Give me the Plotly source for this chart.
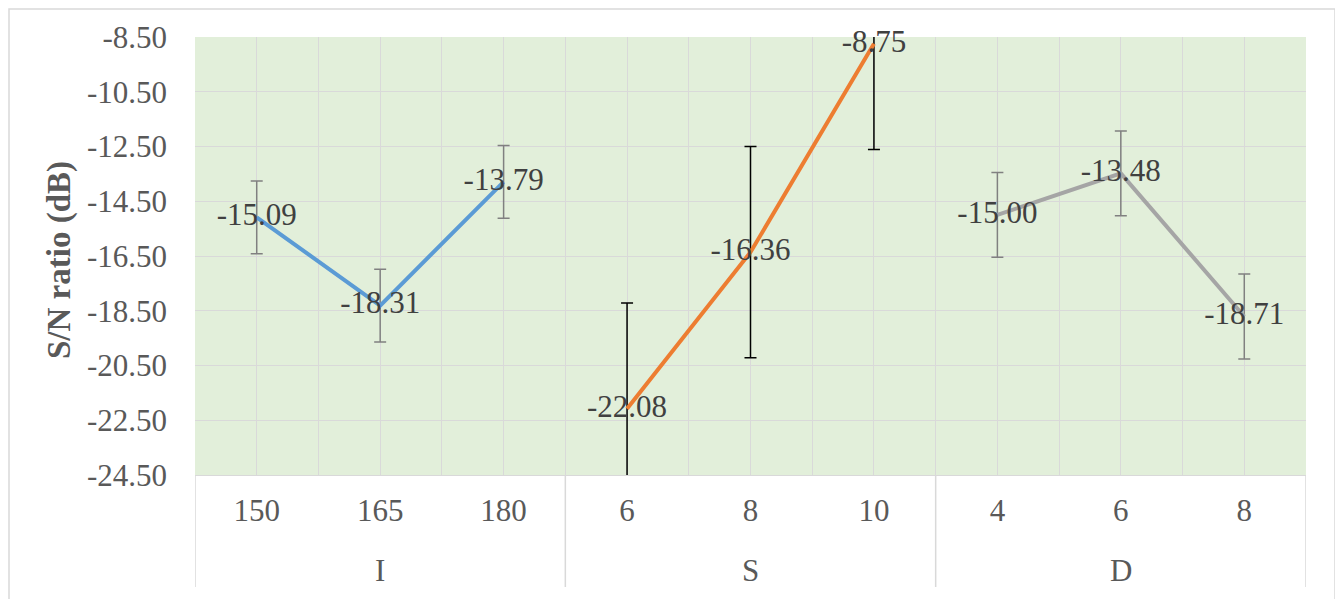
import plotly.graph_objects as go

# ---- data ----
groups = ["I", "S", "D"]
levels = ["150", "165", "180", "6", "8", "10", "4", "6", "8"]
I_sn = [-15.09, -18.31, -13.79]
S_sn = [-22.08, -16.36, -8.75]
D_sn = [-15.00, -13.48, -18.71]
I_err = [1.33, 1.33, 1.33]
S_err = [3.86, 3.86, 3.86]
D_err = [1.55, 1.55, 1.55]
y_ticks = [-8.5, -10.5, -12.5, -14.5, -16.5, -18.5, -20.5, -22.5, -24.5]
y_ticktext = [f"{v:.2f}" for v in y_ticks]

series = [
    (I_sn, I_err, "#5B9BD5", "#808080"),
    (S_sn, S_err, "#ED7D31", "#000000"),
    (D_sn, D_err, "#A5A5A5", "#808080"),
]

FONT = "Liberation Serif, Times New Roman, serif"
FS = 31
fig = go.Figure()

for gi, (vals, errs, lc, ec) in enumerate(series):
    xs = [gi * 3 + k for k in range(len(vals))]
    fig.add_trace(go.Scatter(
        x=xs, y=vals, mode="lines",
        line=dict(color=lc, width=4),
        error_y=dict(type="data", array=errs, visible=True, color=ec,
                     thickness=1.5, width=6),
        showlegend=False, hoverinfo="skip",
    ))
for gi, (vals, errs, lc, ec) in enumerate(series):
    xs = [gi * 3 + k for k in range(len(vals))]
    fig.add_trace(go.Scatter(
        x=xs, y=vals, mode="text",
        text=[f"{v:.2f}" for v in vals],
        textposition="middle center",
        textfont=dict(family=FONT, size=FS, color="#404040"),
        cliponaxis=False, showlegend=False, hoverinfo="skip",
    ))

n = len(levels)
boundaries = [i - 0.5 for i in range(n + 1)]

fig.update_xaxes(
    range=[-0.5, n - 0.5],
    tickvals=list(range(n)), ticktext=levels,
    tickfont=dict(family=FONT, size=FS, color="#595959"),
    showgrid=True, gridcolor="#D9D9D9", gridwidth=1,
    minor=dict(tickvals=boundaries, showgrid=True, gridcolor="#D9D9D9", gridwidth=1),
    showline=True, linecolor="#D9D9D9", linewidth=1,
    zeroline=False, ticks="", ticklabelstandoff=8,
)
fig.update_yaxes(
    range=[-24.5, -8.5],
    tickvals=y_ticks, ticktext=y_ticktext,
    tickfont=dict(family=FONT, size=FS, color="#595959"),
    showgrid=True, gridcolor="#D9D9D9", gridwidth=1,
    zeroline=False, showline=False, ticks="", ticklabelstandoff=27,
)

# page has an 8px body margin; figure is offset accordingly
OFF = 8
W, H = 1343 - OFF, 599 - OFF
L, R, T, B = 195, 1306, 37, 475  # plot area in page pixels
pw, ph = R - L, B - T


def px_x(p):
    return (p - L) / pw


def px_y(p):
    return (B - p) / ph


shapes = []
for xb in [-0.5, 2.5, 5.5, 8.5]:
    shapes.append(dict(type="line", xref="x", yref="paper", x0=xb, x1=xb,
                       y0=0, y1=px_y(587), line=dict(color="#D9D9D9", width=1.5)))
shapes.append(dict(type="rect", xref="paper", yref="paper",
                   x0=px_x(9), x1=px_x(1335), y0=px_y(630), y1=px_y(9),
                   line=dict(color="#D9D9D9", width=1.5), fillcolor="rgba(0,0,0,0)",
                   layer="below"))

annotations = []
for gi, g in enumerate(groups):
    annotations.append(dict(x=gi * 3 + 1, xref="x", y=px_y(570), yref="paper",
                            text=g, showarrow=False, xanchor="center", yanchor="middle",
                            font=dict(family=FONT, size=FS, color="#595959")))
annotations.append(dict(x=px_x(59), xref="paper", y=px_y(260), yref="paper",
                        text="<b>S/N ratio (dB)</b>", textangle=-90, showarrow=False,
                        xanchor="center", yanchor="middle",
                        font=dict(family=FONT, size=33, color="#595959")))

fig.update_layout(
    width=W, height=H,
    margin=dict(l=L - OFF, r=(W + OFF) - R, t=T - OFF, b=(H + OFF) - B, pad=0),
    paper_bgcolor="white", plot_bgcolor="#E2EFDA",
    shapes=shapes, annotations=annotations,
    showlegend=False,
)

fig.write_html("out.html")
